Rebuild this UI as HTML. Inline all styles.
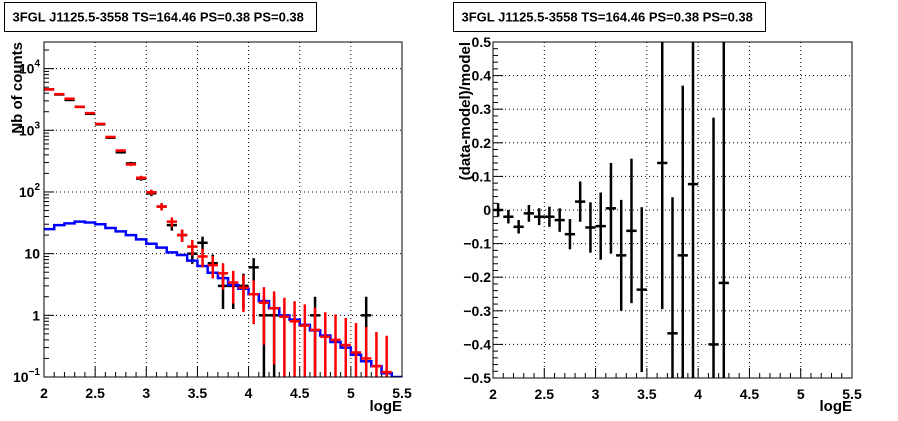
<!DOCTYPE html>
<html><head><meta charset="utf-8"><style>
html,body{margin:0;padding:0;background:#fff;width:898px;height:421px;overflow:hidden;}
svg{display:block;font-family:"Liberation Sans",Arial,sans-serif;font-weight:bold;}
</style></head><body>
<svg id="c" width="898" height="421" viewBox="0 0 898 421" xmlns="http://www.w3.org/2000/svg"></svg>
<script>
// ---- data ----
const binCenters=[2.05,2.15,2.25,2.35,2.45,2.55,2.65,2.75,2.85,2.95,3.05,3.15,3.25,3.35,3.45,3.55,3.65,3.75,3.85,3.95,4.05,4.15,4.25,4.35,4.45,4.55,4.65,4.75,4.85,4.95,5.05,5.15,5.25,5.35,5.45];
const dataCounts=[4600,3800,3100,2400,1850,1250,760,440,290,165,95,58,29,20,10,15,7,3,3,3,6,1,1,0,0,0,1,0,0,0,0,1,0,0,0];
const modelCounts=[4600,3850,3250,2400,1900,1270,780,470,280,170,99,58,33,20,13,9,6.5,4.8,3.4,2.8,2.2,1.6,1.3,0.95,0.8,0.68,0.58,0.45,0.4,0.33,0.25,0.2,0.15,0.12,0];
const componentCounts=[25,29,31,33,32,30,26,23,20,17,14.5,12.5,10.5,9.5,7.7,6.3,4.9,4.0,3.1,2.7,2.2,1.7,1.3,1.0,0.85,0.7,0.57,0.47,0.37,0.3,0.23,0.18,0.15,0.115,0.1];
const resCenters=[2.05,2.15,2.25,2.35,2.45,2.55,2.65,2.75,2.85,2.95,3.05,3.15,3.25,3.35,3.45,3.65,3.75,3.85,3.95,4.15,4.25];
const resValues=[0,-0.02,-0.05,-0.01,-0.02,-0.02,-0.03,-0.072,0.025,-0.052,-0.048,0.005,-0.135,-0.062,-0.237,0.14,-0.367,-0.135,0.077,-0.4,-0.217];
const resErrors=[0.02,0.02,0.02,0.025,0.025,0.03,0.035,0.045,0.06,0.075,0.1,0.135,0.165,0.215,0.245,0.435,0.405,0.505,0.6,0.675,0.9];
const xTicks=["2","2.5","3","3.5","4","4.5","5","5.5"];
const resTicks=["0.5","0.4","0.3","0.2","0.1","0","\u22120.1","\u22120.2","\u22120.3","\u22120.4","\u22120.5"];

const NS="http://www.w3.org/2000/svg";
const svg=document.getElementById('c');
function mk(tag,attrs,parent){const e=document.createElementNS(NS,tag);for(const k in attrs)e.setAttribute(k,attrs[k]);(parent||svg).appendChild(e);return e;}

const L={x0:44,x1:402,y0:42,y1:377};
const R={x0:493,x1:852,y0:42,y1:378};
const lx=v=>L.x0+(v-2)/3.5*(L.x1-L.x0);
const rx=v=>R.x0+(v-2)/3.5*(R.x1-R.x0);
const yTopLog=Math.log10(27000),yBotLog=-1;
const ly=v=>{const l=Math.log10(Math.max(v,1e-3));return L.y1-(l-yBotLog)/(yTopLog-yBotLog)*(L.y1-L.y0);};
const ry=v=>R.y1-(v+0.5)/1.0*(R.y1-R.y0);

function clipRect(id,F){const cp=mk('clipPath',{id:id});mk('rect',{x:F.x0,y:F.y0,width:F.x1-F.x0,height:F.y1-F.y0},cp);}
clipRect('cl',L);clipRect('cr',R);

function titleBox(x,y,w,h,name){
  const g=mk('g',{});
  
  
  mk('rect',{x:x,y:y,width:w,height:h,fill:'#fff',stroke:'#000','stroke-width':1},g);
  const t=mk('text',{x:x+8,y:y+19,'font-size':13},g);t.textContent='3FGL J1125.5-3558 TS=164.46 PS=0.38 PS=0.38';
}
titleBox(4.5,2.5,312,29,'left-title');
titleBox(453.5,2.5,312,29,'right-title');

// ===== left panel =====
const gl=mk('g',{});


xTicks.forEach((t,i)=>{const v=2+0.5*i;const x=lx(v);
  if(i>0&&i<7){const gr=mk('line',{x1:x,x2:x,y1:L.y0,y2:L.y1,stroke:'#000','stroke-dasharray':'1,3','stroke-width':1},gl);}
});
[-1,0,1,2,3,4].forEach(p=>{const y=ly(Math.pow(10,p));if(p>-1){const gr=mk('line',{x1:L.x0,x2:L.x1,y1:y,y2:y,stroke:'#000','stroke-dasharray':'1,3'},gl);}});
for(let k=0;k<=35;k++){const x=lx(2+k*0.1);const len=(k%5==0)?10:5;mk('line',{x1:x,x2:x,y1:L.y1,y2:L.y1-len,stroke:'#000'},gl);}
for(let p=-1;p<=4;p++){for(let m=1;m<10;m++){const v=m*Math.pow(10,p);const y=ly(v);if(y<L.y0)continue;mk('line',{x1:L.x0,x2:L.x0+(m==1?10:5),y1:y,y2:y,stroke:'#000'},gl);}}
xTicks.forEach((t,i)=>{const e=mk('text',{x:lx(2+0.5*i),y:L.y1+21,'font-size':14,'text-anchor':'middle'},gl);e.textContent=t;});
const ylabs=[[0.1,'10','\u22121'],[1,'1',''],[10,'10',''],[100,'10','2'],[1000,'10','3'],[10000,'10','4']];
ylabs.forEach(([v,b,s])=>{const y=ly(v)+5;const e=mk('text',{x:L.x0-4,y:y,'font-size':14,'text-anchor':'end'},gl);
  
  if(s){const a=mk('tspan',{},e);a.textContent=b;const c=mk('tspan',{dy:-7,'font-size':10},e);c.textContent=s;} else e.textContent=b;});
const xt=mk('text',{x:L.x1,y:411,'font-size':15,'text-anchor':'end'},gl);xt.textContent='logE';
const yt=mk('text',{x:0,y:0,'font-size':15,'text-anchor':'end',transform:`translate(22,${L.y0}) rotate(-90)`},gl);yt.textContent='Nb of counts';

const pl=mk('g',{'clip-path':'url(#cl)'},gl);
binCenters.forEach((c,i)=>{const n=dataCounts[i];if(n<=0)return;const err=Math.sqrt(n);
  const g=mk('g',{},pl);
  mk('line',{x1:lx(c),x2:lx(c),y1:ly(n+err),y2:n-err>0?ly(n-err):L.y1+5,stroke:'#000','stroke-width':2.5},g);
  mk('line',{x1:lx(c-0.05),x2:lx(c+0.05),y1:ly(n),y2:ly(n),stroke:'#000','stroke-width':2.5},g);});
let d='';componentCounts.forEach((v,i)=>{const xa=lx(2+i*0.1),xb=lx(2.1+i*0.1),y=ly(v);d+=(i==0?`M${xa},${y}`:`V${y}`)+`H${xb}`;});
const bh=mk('path',{d:d,fill:'none',stroke:'#0000ff','stroke-width':2.5},pl);
binCenters.forEach((c,i)=>{const m=modelCounts[i];if(m<=0)return;const err=Math.sqrt(m);
  const g=mk('g',{},pl);
  mk('line',{x1:lx(c),x2:lx(c),y1:ly(m+err),y2:m-err>0?ly(m-err):L.y1+5,stroke:'#ff0000','stroke-width':2.5},g);
  mk('line',{x1:lx(c-0.05),x2:lx(c+0.05),y1:ly(m),y2:ly(m),stroke:'#ff0000','stroke-width':2.5},g);});
mk('rect',{x:L.x0,y:L.y0,width:L.x1-L.x0,height:L.y1-L.y0,fill:'none',stroke:'#000','stroke-width':1},gl);

// ===== right panel =====
const gr=mk('g',{});


for(let i=1;i<7;i++){const x=rx(2+0.5*i);mk('line',{x1:x,x2:x,y1:R.y0,y2:R.y1,stroke:'#000','stroke-dasharray':'1,3'},gr);}
for(let i=1;i<10;i++){const y=ry(0.5-0.1*i);mk('line',{x1:R.x0,x2:R.x1,y1:y,y2:y,stroke:'#000','stroke-dasharray':'1,3'},gr);}
for(let k=0;k<=35;k++){const x=rx(2+k*0.1);const len=(k%5==0)?10:5;mk('line',{x1:x,x2:x,y1:R.y1,y2:R.y1-len,stroke:'#000'},gr);}
for(let k=0;k<=50;k++){const y=ry(-0.5+k*0.02);const len=(k%5==0)?10:5;mk('line',{x1:R.x0,x2:R.x0+len,y1:y,y2:y,stroke:'#000'},gr);}
xTicks.forEach((t,i)=>{const e=mk('text',{x:rx(2+0.5*i),y:R.y1+21,'font-size':14,'text-anchor':'middle'},gr);e.textContent=t;});
resTicks.forEach((t,i)=>{const e=mk('text',{x:R.x0-2,y:ry(0.5-0.1*i)+5,'font-size':14,'text-anchor':'end'},gr);e.textContent=t;});
const xt2=mk('text',{x:R.x1,y:411,'font-size':15,'text-anchor':'end'},gr);xt2.textContent='logE';
const yt2=mk('text',{x:0,y:0,'font-size':15,'text-anchor':'end',transform:`translate(470,${R.y0}) rotate(-90)`},gr);yt2.textContent='(data-model)/model';
const pr=mk('g',{'clip-path':'url(#cr)'},gr);
resCenters.forEach((c,i)=>{const v=resValues[i],e=resErrors[i];
  const g=mk('g',{},pr);
  mk('line',{x1:rx(c),x2:rx(c),y1:ry(v+e),y2:ry(v-e),stroke:'#000','stroke-width':2.5},g);
  mk('line',{x1:rx(c-0.05),x2:rx(c+0.05),y1:ry(v),y2:ry(v),stroke:'#000','stroke-width':2.5},g);});
mk('rect',{x:R.x0,y:R.y0,width:R.x1-R.x0,height:R.y1-R.y0,fill:'none',stroke:'#000','stroke-width':1},gr);
</script>
</body></html>
